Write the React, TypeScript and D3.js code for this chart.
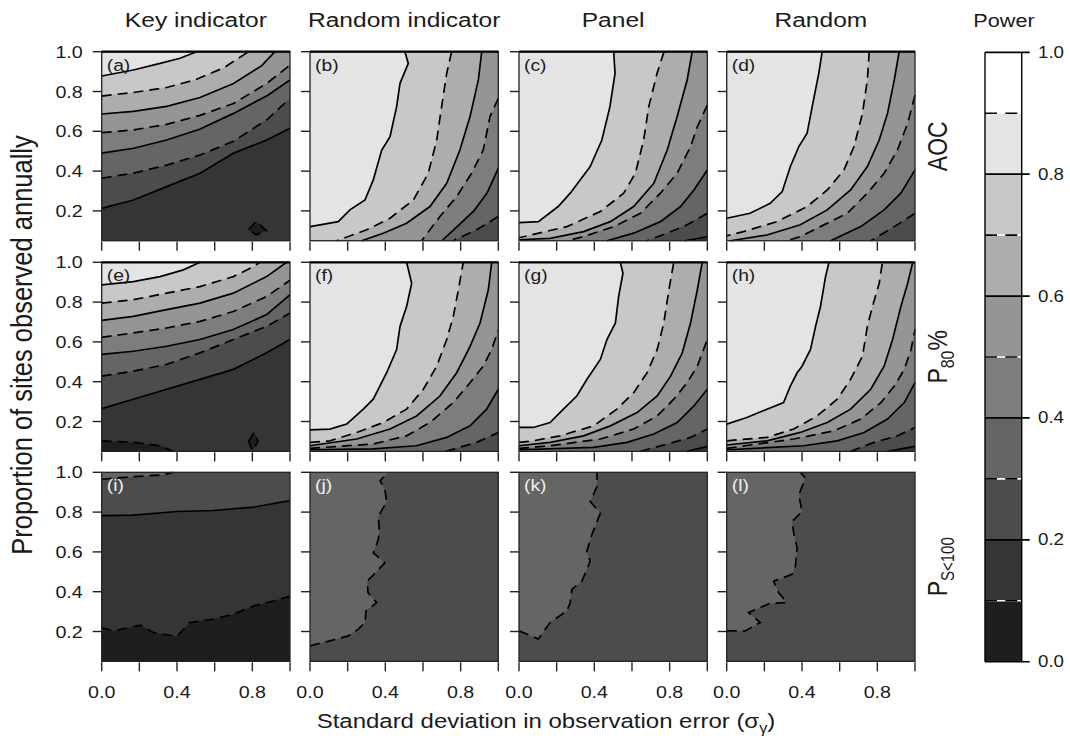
import React from 'react';
import * as d3 from 'd3';

type Pt = [number, number];
type Contour = { level: number; pts: Pt[]; pocket?: boolean };

// ---- data ----
const columnTitles = ['Key indicator', 'Random indicator', 'Panel', 'Random'];
const panelLetters = ['a', 'b', 'c', 'd', 'e', 'f', 'g', 'h', 'i', 'j', 'k', 'l'];
const xTicks = [0, 0.2, 0.4, 0.6, 0.8, 1.0];
const xTickLabels = [0, 0.4, 0.8];
const yTicks = [0.2, 0.4, 0.6, 0.8, 1.0];
const barTicks = [0, 0.2, 0.4, 0.6, 0.8, 1.0];
const barLevels = [0.1, 0.2, 0.3, 0.4, 0.5, 0.6, 0.7, 0.8, 0.9, 1.0];
const bandColors = ['#1e1e1e', '#353535', '#4c4c4c', '#656565', '#7d7d7d', '#959595', '#adadad', '#c8c8c8', '#e4e4e4', '#ffffff'];

const panelA: Contour[] = [
  { level: 0.2, pts: [[0, 0.213], [0.168, 0.255], [0.345, 0.322], [0.522, 0.389], [0.699, 0.49], [0.876, 0.556], [1, 0.615]] },
  { level: 0.3, pts: [[0, 0.364], [0.17, 0.39], [0.345, 0.43], [0.52, 0.48], [0.7, 0.55], [0.88, 0.66], [1, 0.766]] },
  { level: 0.4, pts: [[0, 0.49], [0.17, 0.515], [0.345, 0.556], [0.52, 0.61], [0.7, 0.69], [0.88, 0.78], [1, 0.858]] },
  { level: 0.5, pts: [[0, 0.593], [0.168, 0.607], [0.345, 0.635], [0.522, 0.68], [0.7, 0.74], [0.876, 0.84], [1, 0.933]] },
  { level: 0.6, pts: [[0, 0.687], [0.168, 0.7], [0.345, 0.725], [0.522, 0.77], [0.7, 0.84], [0.85, 0.93], [0.92, 1]] },
  { level: 0.7, pts: [[0, 0.777], [0.168, 0.795], [0.345, 0.82], [0.5, 0.86], [0.65, 0.92], [0.78, 1]] },
  { level: 0.8, pts: [[0, 0.878], [0.168, 0.908], [0.31, 0.941], [0.416, 0.967], [0.504, 1]] },
  { level: 0.1, pocket: true, pts: [[0.78, 0.105], [0.82, 0.148], [0.875, 0.1], [0.82, 0.08]] },
];

const panelB: Contour[] = [
  { level: 0.3, pts: [[1, 0.172], [0.885, 0.105], [0.76, 0.05]] },
  { level: 0.4, pts: [[1, 0.414], [0.94, 0.29], [0.87, 0.2], [0.78, 0.12], [0.7, 0.05]] },
  { level: 0.5, pts: [[1, 0.766], [0.956, 0.674], [0.92, 0.506], [0.858, 0.389], [0.779, 0.272], [0.69, 0.172], [0.593, 0.05]] },
  { level: 0.6, pts: [[0.912, 1], [0.894, 0.858], [0.85, 0.674], [0.796, 0.506], [0.726, 0.339], [0.637, 0.222], [0.513, 0.138], [0.389, 0.088], [0.274, 0.05]] },
  { level: 0.7, pts: [[0.752, 1], [0.726, 0.891], [0.699, 0.724], [0.673, 0.556], [0.628, 0.389], [0.549, 0.255], [0.425, 0.163], [0.301, 0.105], [0.142, 0.05]] },
  { level: 0.8, pts: [[0, 0.121], [0.15, 0.146], [0.212, 0.205], [0.292, 0.255], [0.336, 0.356], [0.381, 0.506], [0.425, 0.573], [0.46, 0.724], [0.478, 0.841], [0.522, 0.941], [0.504, 1]] },
];

const panelC: Contour[] = [
  { level: 0.2, pts: [[0.88, 0.05], [1, 0.07]] },
  { level: 0.3, pts: [[1, 0.188], [0.893, 0.13], [0.787, 0.088], [0.68, 0.05]] },
  { level: 0.4, pts: [[1, 0.406], [0.929, 0.305], [0.858, 0.222], [0.751, 0.146], [0.609, 0.088], [0.467, 0.05]] },
  { level: 0.5, pts: [[1, 0.732], [0.947, 0.623], [0.911, 0.523], [0.84, 0.389], [0.751, 0.289], [0.645, 0.188], [0.503, 0.121], [0.343, 0.071], [0.254, 0.05]] },
  { level: 0.6, pts: [[0.92, 1], [0.893, 0.858], [0.84, 0.674], [0.787, 0.506], [0.716, 0.339], [0.609, 0.222], [0.485, 0.146], [0.343, 0.096], [0.165, 0.062], [0, 0.055]] },
  { level: 0.7, pts: [[0.77, 1], [0.733, 0.891], [0.689, 0.724], [0.662, 0.556], [0.618, 0.389], [0.556, 0.289], [0.432, 0.197], [0.254, 0.121], [0, 0.065]] },
  { level: 0.8, pts: [[0, 0.141], [0.103, 0.146], [0.208, 0.222], [0.272, 0.289], [0.378, 0.423], [0.44, 0.556], [0.483, 0.724], [0.51, 0.891], [0.503, 1]] },
];

const panelD: Contour[] = [
  { level: 0.3, pts: [[1, 0.188], [0.89, 0.121], [0.765, 0.05]] },
  { level: 0.4, pts: [[1, 0.406], [0.925, 0.289], [0.836, 0.205], [0.712, 0.121], [0.552, 0.05]] },
  { level: 0.5, pts: [[1, 0.782], [0.961, 0.64], [0.907, 0.506], [0.836, 0.389], [0.747, 0.289], [0.64, 0.188], [0.498, 0.121], [0.391, 0.071], [0.32, 0.05]] },
  { level: 0.6, pts: [[0.916, 1], [0.89, 0.858], [0.854, 0.69], [0.81, 0.556], [0.747, 0.423], [0.658, 0.305], [0.534, 0.205], [0.391, 0.13], [0.214, 0.079], [0.02, 0.05]] },
  { level: 0.7, pts: [[0.757, 1], [0.747, 0.858], [0.721, 0.69], [0.676, 0.523], [0.623, 0.406], [0.534, 0.305], [0.427, 0.222], [0.267, 0.146], [0.089, 0.096], [0, 0.075]] },
  { level: 0.8, pts: [[0, 0.163], [0.124, 0.188], [0.231, 0.238], [0.295, 0.297], [0.338, 0.423], [0.383, 0.523], [0.427, 0.59], [0.454, 0.724], [0.489, 0.891], [0.507, 1]] },
];

const panelE: Contour[] = [
  { level: 0.1, pts: [[0, 0.103], [0.168, 0.095], [0.31, 0.078], [0.38, 0.05]] },
  { level: 0.2, pts: [[0, 0.265], [0.168, 0.312], [0.345, 0.362], [0.522, 0.412], [0.699, 0.462], [0.876, 0.545], [1, 0.612]] },
  { level: 0.3, pts: [[0, 0.428], [0.168, 0.453], [0.345, 0.487], [0.522, 0.545], [0.699, 0.612], [0.876, 0.678], [1, 0.745]] },
  { level: 0.4, pts: [[0, 0.537], [0.168, 0.553], [0.345, 0.578], [0.522, 0.612], [0.699, 0.662], [0.876, 0.737], [1, 0.837]] },
  { level: 0.5, pts: [[0, 0.623], [0.168, 0.645], [0.345, 0.67], [0.522, 0.703], [0.699, 0.753], [0.876, 0.828], [1, 0.91]] },
  { level: 0.6, pts: [[0, 0.708], [0.168, 0.728], [0.345, 0.762], [0.522, 0.795], [0.699, 0.845], [0.876, 0.928], [0.982, 1]] },
  { level: 0.7, pts: [[0, 0.795], [0.168, 0.812], [0.345, 0.845], [0.522, 0.878], [0.699, 0.928], [0.805, 0.978], [0.84, 1]] },
  { level: 0.8, pts: [[0, 0.887], [0.168, 0.903], [0.31, 0.928], [0.434, 0.962], [0.522, 1]] },
  { level: 0.1, pocket: true, pts: [[0.78, 0.1], [0.81, 0.145], [0.83, 0.1], [0.8, 0.055]] },
];

const panelF: Contour[] = [
  { level: 0.3, pts: [[0.72, 0.05], [0.885, 0.095], [1, 0.145]] },
  { level: 0.4, pts: [[0, 0.058], [0.336, 0.062], [0.566, 0.078], [0.726, 0.12], [0.85, 0.178], [0.938, 0.262], [1, 0.362]] },
  { level: 0.5, pts: [[0, 0.065], [0.336, 0.087], [0.513, 0.128], [0.637, 0.195], [0.761, 0.295], [0.85, 0.395], [0.92, 0.478], [0.965, 0.562], [1, 0.66]] },
  { level: 0.6, pts: [[0, 0.078], [0.248, 0.112], [0.425, 0.162], [0.566, 0.228], [0.69, 0.328], [0.779, 0.445], [0.85, 0.578], [0.903, 0.695], [0.947, 0.862], [0.965, 1]] },
  { level: 0.7, pts: [[0, 0.095], [0.106, 0.103], [0.248, 0.145], [0.389, 0.195], [0.513, 0.262], [0.602, 0.362], [0.673, 0.478], [0.726, 0.612], [0.761, 0.728], [0.788, 0.862], [0.814, 1]] },
  { level: 0.8, pts: [[0, 0.158], [0.106, 0.162], [0.195, 0.187], [0.283, 0.262], [0.336, 0.312], [0.407, 0.445], [0.46, 0.562], [0.478, 0.678], [0.513, 0.778], [0.54, 0.895], [0.513, 1]] },
];

const panelG: Contour[] = [
  { level: 0.2, pts: [[0.893, 0.05], [1, 0.075]] },
  { level: 0.3, pts: [[0.645, 0.05], [0.787, 0.087], [0.911, 0.12], [1, 0.162]] },
  { level: 0.4, pts: [[0, 0.058], [0.396, 0.07], [0.574, 0.095], [0.716, 0.137], [0.84, 0.195], [0.929, 0.278], [1, 0.362]] },
  { level: 0.5, pts: [[0, 0.065], [0.165, 0.078], [0.432, 0.112], [0.609, 0.162], [0.734, 0.228], [0.822, 0.312], [0.893, 0.395], [0.947, 0.478], [1, 0.612]] },
  { level: 0.6, pts: [[0, 0.078], [0.165, 0.095], [0.343, 0.128], [0.485, 0.178], [0.627, 0.245], [0.734, 0.328], [0.805, 0.428], [0.867, 0.545], [0.911, 0.695], [0.947, 0.862], [0.973, 1]] },
  { level: 0.7, pts: [[0, 0.095], [0.076, 0.103], [0.218, 0.128], [0.396, 0.178], [0.52, 0.262], [0.609, 0.345], [0.68, 0.445], [0.734, 0.562], [0.769, 0.695], [0.796, 0.862], [0.822, 1]] },
  { level: 0.8, pts: [[0, 0.17], [0.076, 0.17], [0.165, 0.195], [0.236, 0.262], [0.307, 0.328], [0.361, 0.412], [0.432, 0.512], [0.467, 0.612], [0.512, 0.695], [0.529, 0.828], [0.552, 0.945], [0.538, 1]] },
];

const panelH: Contour[] = [
  { level: 0.2, pts: [[0.854, 0.05], [1, 0.075]] },
  { level: 0.3, pts: [[0.658, 0.05], [0.783, 0.095], [0.907, 0.128], [1, 0.17]] },
  { level: 0.4, pts: [[0, 0.058], [0.409, 0.078], [0.587, 0.103], [0.73, 0.145], [0.854, 0.212], [0.943, 0.295], [1, 0.395]] },
  { level: 0.5, pts: [[0, 0.065], [0.356, 0.112], [0.569, 0.153], [0.712, 0.212], [0.819, 0.295], [0.89, 0.378], [0.943, 0.462], [0.979, 0.562], [1, 0.662]] },
  { level: 0.6, pts: [[0, 0.082], [0.214, 0.103], [0.391, 0.145], [0.534, 0.195], [0.658, 0.262], [0.765, 0.362], [0.836, 0.478], [0.881, 0.612], [0.925, 0.778], [0.961, 0.895], [0.988, 1]] },
  { level: 0.7, pts: [[0, 0.103], [0.214, 0.12], [0.356, 0.162], [0.48, 0.228], [0.587, 0.312], [0.658, 0.412], [0.721, 0.528], [0.747, 0.678], [0.774, 0.778], [0.81, 0.895], [0.827, 1]] },
  { level: 0.8, pts: [[0, 0.187], [0.107, 0.22], [0.214, 0.262], [0.302, 0.295], [0.338, 0.378], [0.374, 0.445], [0.4, 0.478], [0.445, 0.562], [0.472, 0.678], [0.498, 0.778], [0.525, 0.928], [0.543, 1]] },
];

const panelI: Contour[] = [
  { level: 0.1, pts: [[0, 0.22], [0.062, 0.203], [0.204, 0.232], [0.274, 0.195], [0.398, 0.175], [0.469, 0.245], [0.593, 0.262], [0.699, 0.287], [0.805, 0.328], [0.912, 0.353], [1, 0.378]] },
  { level: 0.2, pts: [[0, 0.782], [0.168, 0.785], [0.398, 0.803], [0.593, 0.808], [0.805, 0.825], [1, 0.858]] },
  { level: 0.3, pts: [[0, 0.965], [0.168, 0.978], [0.327, 0.987], [0.38, 1]] },
];

const panelJ: Contour[] = [
  { level: 0.3, pts: [[0, 0.128], [0.106, 0.153], [0.204, 0.178], [0.257, 0.212], [0.292, 0.245], [0.297, 0.303], [0.354, 0.345], [0.308, 0.395], [0.304, 0.453], [0.398, 0.545], [0.336, 0.595], [0.363, 0.662], [0.368, 0.712], [0.363, 0.778], [0.407, 0.853], [0.398, 0.912], [0.372, 0.958], [0.416, 1]] },
];

const panelK: Contour[] = [
  { level: 0.3, pts: [[0, 0.203], [0.103, 0.162], [0.165, 0.245], [0.254, 0.303], [0.272, 0.345], [0.281, 0.412], [0.334, 0.453], [0.378, 0.553], [0.36, 0.603], [0.387, 0.687], [0.432, 0.795], [0.378, 0.853], [0.414, 0.928], [0.414, 1]] },
];

const panelL: Contour[] = [
  { level: 0.3, pts: [[0, 0.203], [0.098, 0.203], [0.178, 0.245], [0.116, 0.295], [0.231, 0.342], [0.32, 0.345], [0.276, 0.395], [0.249, 0.453], [0.347, 0.487], [0.365, 0.528], [0.374, 0.62], [0.356, 0.695], [0.347, 0.753], [0.4, 0.803], [0.383, 0.887], [0.418, 0.97], [0.391, 1]] },
];

const panels = [panelA, panelB, panelC, panelD, panelE, panelF, panelG, panelH, panelI, panelJ, panelK, panelL];
// band index of the lowest region in each panel
const panelBase = [1, 2, 1, 2, 0, 2, 1, 1, 0, 2, 2, 2];
const rowLabels = ['AOC', 'P80', 'PS'];

// ---- layout ----
const W = 1070, H = 741;
const colX = [101.7, 310, 519, 726.7];
const rowY = [51.7, 262.3, 472.3];
const PW = 188.3;
const Y0 = 0.05;
const PH = (1 - Y0) * 199;
const SX = 1.17; // glyphs in the figure are a bit wide
const FONT = "'Liberation Sans', Arial, Helvetica, sans-serif";
const INK = '#1a1a1a';

function Txt({ x, y, size, anchor = 'middle', rot = false, fill = INK, children }: any) {
  return (
    <text
      transform={`translate(${x},${y}) scale(${SX},1)${rot ? ' rotate(-90)' : ''}`}
      fontSize={size}
      textAnchor={anchor}
      fontFamily={FONT}
      fill={fill}
    >
      {children}
    </text>
  );
}

// position along the panel boundary, counter-clockwise from bottom-left
function perim([x, y]: Pt) {
  const d = [Math.abs(y - Y0), Math.abs(1 - x), Math.abs(1 - y), Math.abs(x)];
  const e = d.indexOf(Math.min(...d));
  if (e === 0) return x;
  if (e === 1) return 1 + (y - Y0) / (1 - Y0);
  if (e === 2) return 2 + (1 - x);
  return 3 + (1 - y) / (1 - Y0);
}
const corners: Pt[] = [[1, Y0], [1, 1], [0, 1], [0, Y0]];

// region on the high side of an open contour: the side holding the top-left corner
function regionPts(pts: Pt[]): Pt[] {
  let p = pts;
  let ts = perim(p[0]);
  let te = perim(p[p.length - 1]);
  let span = (ts - te + 4) % 4;
  if (!((3 - te + 4) % 4 < span)) {
    p = [...p].reverse();
    [ts, te] = [te, ts];
    span = (ts - te + 4) % 4;
  }
  const cs = [1, 2, 3, 4]
    .map(c => ({ c, off: (c - te + 4) % 4 }))
    .filter(o => o.off > 0 && o.off < span)
    .sort((a, b) => a.off - b.off);
  return [...p, ...cs.map(o => corners[o.c - 1])];
}

function Panel({ idx }: { idx: number }) {
  const row = Math.floor(idx / 4), col = idx % 4;
  const x0 = colX[col], y0 = rowY[row];
  const xs = d3.scaleLinear().domain([0, 1]).range([x0, x0 + PW]);
  const ys = d3.scaleLinear().domain([Y0, 1]).range([y0 + PH, y0]);
  const line = d3.line<Pt>().x(d => xs(d[0])).y(d => ys(d[1]));
  const data = panels[idx];
  const open = data.filter(c => !c.pocket).sort((a, b) => a.level - b.level);
  const pockets = data.filter(c => c.pocket);
  const band = (lv: number) => Math.round(lv * 10);
  const dashed = (lv: number) => band(lv) % 2 === 1;
  const letterFill = row === 2 ? '#f0f0f0' : INK;

  return (
    <g>
      <rect x={x0} y={y0} width={PW} height={PH} fill={bandColors[panelBase[idx]]} />
      {open.map((c, i) => (
        <path key={'f' + i} d={line(regionPts(c.pts)) + 'Z'} fill={bandColors[band(c.level)]} />
      ))}
      {pockets.map((c, i) => (
        <path key={'p' + i} d={line(c.pts) + 'Z'} fill={bandColors[band(c.level) - 1]} />
      ))}
      {open.map((c, i) => (
        <path key={'l' + i} d={line(c.pts) || ''} fill="none" stroke="#000" strokeWidth={1.7}
          strokeDasharray={dashed(c.level) ? '10,6' : undefined} />
      ))}
      {pockets.map((c, i) => (
        <path key={'pl' + i} d={line(c.pts) + 'Z'} fill="none" stroke="#000" strokeWidth={1.7}
          strokeDasharray={dashed(c.level) ? '10,6' : undefined} />
      ))}
      <rect x={x0} y={y0} width={PW} height={PH} fill="none" stroke="#222" strokeWidth={1.3} />
      {row < 2 && <line x1={x0} x2={x0 + PW} y1={y0} y2={y0} stroke="#000" strokeWidth={2.2} />}
      {yTicks.map(t => (
        <line key={'yt' + t} x1={x0 - 9} x2={x0} y1={ys(t)} y2={ys(t)} stroke="#222" strokeWidth={1.4} />
      ))}
      {xTicks.map(t => (
        <line key={'xt' + t} x1={xs(t)} x2={xs(t)} y1={y0 + PH + 1} y2={y0 + PH + 10} stroke="#222" strokeWidth={1.4} />
      ))}
      {col === 0 && yTicks.map(t => (
        <Txt key={'yl' + t} x={x0 - 19} y={ys(t) + 6} size={16.8} anchor="end">{t.toFixed(1)}</Txt>
      ))}
      {row === 2 && xTickLabels.map(t => (
        <Txt key={'xl' + t} x={xs(t)} y={698} size={16.8}>{t.toFixed(1)}</Txt>
      ))}
      <Txt x={x0 + 5} y={y0 + 19} size={16.5} anchor="start" fill={letterFill}>({panelLetters[idx]})</Txt>
    </g>
  );
}

function ColorBar() {
  const bx = 985, bw = 36.7;
  const cy = d3.scaleLinear().domain([0, 1]).range([661.7, 52.3]);
  return (
    <g>
      {bandColors.map((c, i) => (
        <rect key={i} x={bx} y={cy((i + 1) / 10)} width={bw} height={cy(i / 10) - cy((i + 1) / 10)} fill={c} />
      ))}
      {barLevels.map(lv => {
        const even = Math.round(lv * 10) % 2 === 0;
        return even ? (
          <line key={lv} x1={bx} x2={bx + bw + 8} y1={cy(lv)} y2={cy(lv)} stroke="#000" strokeWidth={1.7} />
        ) : (
          <g key={lv}>
            <line x1={bx} x2={bx + bw} y1={cy(lv)} y2={cy(lv)} stroke="#fff" strokeWidth={1.7} />
            <line x1={bx} x2={bx + bw} y1={cy(lv)} y2={cy(lv)} stroke="#000" strokeWidth={1.7} strokeDasharray="12,8.3" />
          </g>
        );
      })}
      <line x1={bx} x2={bx + bw + 8} y1={cy(0)} y2={cy(0)} stroke="#000" strokeWidth={1.4} />
      <line x1={bx} x2={bx} y1={cy(1)} y2={cy(0)} stroke="#000" strokeWidth={1.4} />
      <line x1={bx + bw} x2={bx + bw} y1={cy(1)} y2={cy(0)} stroke="#000" strokeWidth={1.4} />
      {barTicks.map(t => (
        <Txt key={t} x={1038} y={cy(t) + 5.5} size={16} anchor="start">{t.toFixed(1)}</Txt>
      ))}
      <Txt x={1004} y={27} size={18.5}>Power</Txt>
    </g>
  );
}

export default function App() {
  const rowMid = rowY.map(y => y + PH / 2);
  return (
    <svg width={W} height={H} style={{ position: 'absolute', left: 0, top: 0, background: '#fff' }}>
      {panels.map((_, i) => <Panel key={i} idx={i} />)}
      {columnTitles.map((t, i) => (
        <Txt key={t} x={colX[i] + PW / 2} y={27} size={21}>{t}</Txt>
      ))}
      <Txt x={947} y={rowMid[0]} size={23} rot>{rowLabels[0]}</Txt>
      <Txt x={947} y={rowMid[1]} size={23} rot>
        {rowLabels[1].slice(0, 1)}<tspan fontSize={16} dy={6}>{rowLabels[1].slice(1)}</tspan><tspan dy={-6}>%</tspan>
      </Txt>
      <Txt x={947} y={rowMid[2]} size={23} rot>
        {rowLabels[2].slice(0, 1)}<tspan fontSize={15} dy={6}>{'S<100'}</tspan>
      </Txt>
      <Txt x={32} y={345} size={25.5} rot>Proportion of sites observed annually</Txt>
      <Txt x={546} y={728} size={20.5}>
        Standard deviation in observation error (σ<tspan fontSize={14} dy={5}>γ</tspan><tspan dy={-5}>)</tspan>
      </Txt>
      <ColorBar />
    </svg>
  );
}
